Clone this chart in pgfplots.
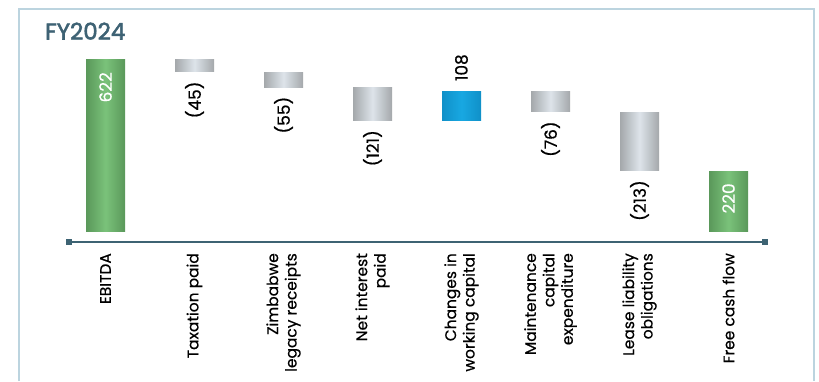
\documentclass[border=0pt]{standalone}
\usepackage{pgfplots}
\pgfplotsset{compat=1.18}
\usepackage{fontspec}
\setmainfont{Poppins}
\newfontfamily\lblfont{Poppins}[FakeBold=0.5]
\newfontfamily\titlefont{Poppins}[FakeBold=2.4]
\usetikzlibrary{arrows.meta}
\definecolor{axiscol}{HTML}{3D6373}
\definecolor{framecol}{HTML}{BCD4DF}
\definecolor{titlecol}{HTML}{3E6274}
\definecolor{gdark}{HTML}{5A985A}
\definecolor{glight}{HTML}{7AC27A}
\definecolor{grdark}{HTML}{A4A8AB}
\definecolor{grlight}{HTML}{DDE4EA}
\definecolor{bdark}{HTML}{1090C8}
\definecolor{blight}{HTML}{18A8E2}
\pgfplotsset{
  frame/.style={at={(66bp,-242bp)}, anchor=south west,
    scale only axis, width=702bp, height=192bp,
    xmin=-0.444, xmax=7.444, ymin=-36.2, ymax=658, clip=false},
  greenbar/.style={draw=none, left color=gdark, right color=gdark, middle color=glight},
  greybar/.style={draw=none, left color=grdark, right color=grdark, middle color=grlight},
  bluebar/.style={draw=none, left color=bdark, right color=bdark, middle color=blight},
  basebar/.style={draw=none, fill=white, bar width=42bp},
}
\begin{document}
\begin{tikzpicture}[x=1bp,y=1bp]
\path[use as bounding box] (0,0) rectangle (819,-381);
\draw[framecol, line width=1.5bp] (19,-381) -- (19,-9) -- (814,-9) -- (814,-381);
\node[anchor=base west, text=titlecol, inner sep=0pt, font=\fontsize{23}{27}\titlefont] at (45,-39.5) {FY2024};
\begin{axis}[
  frame,
  ybar, bar shift=0pt, bar width=39bp,
  axis x line=bottom, axis y line=none,
  x axis line style={draw=axiscol, line width=1.3bp, arrows={Square[length=6bp,width=6bp]-Square[length=6bp,width=6bp]}},
  xtick={0,...,7},
  xticklabels={EBITDA, Taxation paid, {Zimbabwe\\legacy receipts}, {Net interest\\paid}, {Changes in\\working capital}, {Maintenance\\capital\\expenditure}, {Lease liability\\obligations}, Free cash flow},
  major tick length=0pt,
  xticklabel style={rotate=90, anchor=east, align=right, font=\fontsize{15.5}{18.5}\lblfont, inner sep=0pt, text=black},
  xticklabel shift=11bp,
]
% each step: bar up to its top value, then the base below it is left blank
\addplot[greenbar] coordinates {(0,622)};
\addplot[greybar]  coordinates {(1,622)};
\addplot[basebar]  coordinates {(1,577)};
\addplot[greybar]  coordinates {(2,577)};
\addplot[basebar]  coordinates {(2,522)};
\addplot[greybar]  coordinates {(3,522)};
\addplot[basebar]  coordinates {(3,401)};
\addplot[bluebar]  coordinates {(4,509)};
\addplot[basebar]  coordinates {(4,401)};
\addplot[greybar]  coordinates {(5,509)};
\addplot[basebar]  coordinates {(5,433)};
\addplot[greybar]  coordinates {(6,433)};
\addplot[basebar]  coordinates {(6,220)};
\addplot[greenbar] coordinates {(7,220)};
\end{axis}
% value labels
\begin{axis}[frame, hide axis, point meta=explicit symbolic]
\addplot[draw=none, mark=none, nodes near coords,
  every node near coord/.style={rotate=90, anchor=east, inner xsep=9bp, inner ysep=0pt, font=\fontsize{17}{20}\lblfont, text=black}]
  coordinates {(1,577) [(45)] (2,522) [(55)] (3,401) [(121)] (5,433) [(76)] (6,220) [(213)]};
\addplot[draw=none, mark=none, nodes near coords,
  every node near coord/.style={rotate=90, anchor=east, inner xsep=12bp, inner ysep=0pt, font=\fontsize{17}{20}\lblfont, text=white}]
  coordinates {(0,622) [622] (7,220) [220]};
\addplot[draw=none, mark=none, nodes near coords,
  every node near coord/.style={rotate=90, anchor=west, inner xsep=10bp, inner ysep=0pt, font=\fontsize{17}{20}\lblfont, text=black}]
  coordinates {(4,509) [108]};
\end{axis}
\end{tikzpicture}
\end{document}
